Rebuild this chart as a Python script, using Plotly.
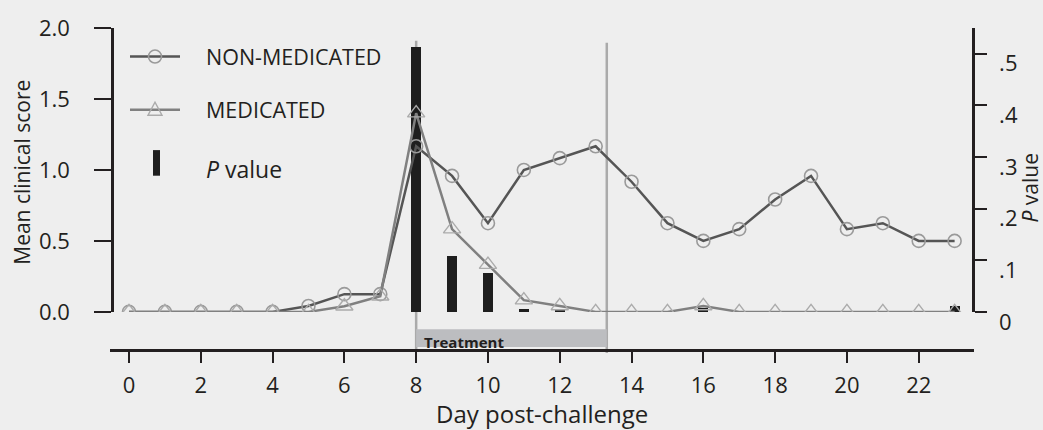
import plotly.graph_objects as go

# ---------------- data ----------------
days = list(range(0, 24))
non_medicated = [0, 0, 0, 0, 0, 0.042, 0.125, 0.125, 1.167, 0.958, 0.625, 1.0,
                 1.083, 1.167, 0.917, 0.625, 0.5, 0.583, 0.792, 0.958, 0.583,
                 0.625, 0.5, 0.5]
medicated = [0, 0, 0, 0, 0, 0, 0.04, 0.11, 1.40, 0.583, 0.333, 0.083,
             0.042, 0, 0, 0, 0.042, 0, 0, 0, 0, 0, 0, 0]
p_days = [8, 9, 10, 11, 12, 16, 23]
p_values = [0.512, 0.109, 0.075, 0.006, 0.004, 0.008, 0.012]
x_ticks = list(range(0, 23, 2))
left_ticks = [0, 0.5, 1.0, 1.5, 2.0]
right_ticks = [0, 0.1, 0.2, 0.3, 0.4, 0.5]
right_ticktext = ["0", ".1", ".2", ".3", ".4", ".5"]
treatment_start = 8
treatment_end = 13.31

# ---------------- geometry helpers ----------------
W, H = 1043, 430
L, R, T, B = 110, 974, 23, 350


def px(x):
    return (x - L) / (R - L)


def py(y):
    return (B - y) / (B - T)


BG = "#eeeeee"
INK = "#231f20"
FONT = "Open Sans"
TICK = 22

fig = go.Figure()

# P-value bars on primary (right) axis -> drawn beneath
fig.add_trace(go.Bar(x=p_days, y=p_values, width=0.28, marker_color="#1e1e1e",
                     marker_line_width=0, yaxis="y", xaxis="x", name="P value"))

fig.add_trace(go.Scatter(x=days, y=non_medicated, mode="lines+markers", yaxis="y2",
                         name="NON-MEDICATED",
                         line=dict(color="#555555", width=2.5),
                         marker=dict(symbol="circle-open", size=13,
                                     color="#9a9a9a", line=dict(width=1.6, color="#9a9a9a"))))
fig.add_trace(go.Scatter(x=days, y=medicated, mode="lines+markers", yaxis="y2",
                         name="MEDICATED",
                         line=dict(color="#808080", width=2.5),
                         marker=dict(symbol="triangle-up-open", size=15,
                                     color="#ababab", line=dict(width=1.4, color="#ababab"))))

shapes = []
# vertical treatment boundary lines
shapes.append(dict(type="line", xref="x", yref="paper", x0=treatment_start, x1=treatment_start,
                   y0=py(350), y1=py(36), line=dict(color="#aaaaaa", width=2.5), layer="below"))
shapes.append(dict(type="line", xref="x", yref="paper", x0=treatment_end, x1=treatment_end,
                   y0=py(353), y1=py(38), line=dict(color="#aaaaaa", width=2.5), layer="below"))
# treatment bar
shapes.append(dict(type="rect", xref="x", yref="paper", x0=treatment_start, x1=treatment_end,
                   y0=py(347), y1=py(329), fillcolor="#bcbdc0", line=dict(width=0), layer="below"))

# custom legend
shapes.append(dict(type="line", xref="paper", yref="paper", x0=px(130), x1=px(180),
                   y0=py(52), y1=py(52), line=dict(color="#555555", width=2.5)))
shapes.append(dict(type="circle", xref="paper", yref="paper", xsizemode="pixel", ysizemode="pixel",
                   xanchor=px(155), yanchor=py(52), x0=-6.5, x1=6.5, y0=-6.5, y1=6.5,
                   line=dict(color="#9a9a9a", width=1.6)))
shapes.append(dict(type="line", xref="paper", yref="paper", x0=px(130), x1=px(180),
                   y0=py(106), y1=py(106), line=dict(color="#808080", width=2.5)))
shapes.append(dict(type="path", xref="paper", yref="paper", xsizemode="pixel", ysizemode="pixel",
                   xanchor=px(155), yanchor=py(106),
                   path="M -7 -5.5 L 7 -5.5 L 0 7.5 Z",
                   line=dict(color="#ababab", width=1.4)))
shapes.append(dict(type="rect", xref="paper", yref="paper", x0=px(153), x1=px(160),
                   y0=py(173), y1=py(147), fillcolor="#1e1e1e", line=dict(width=0)))

annotations = [
    dict(text="NON-MEDICATED", xref="paper", yref="paper", x=px(204), y=py(52),
         xanchor="left", yanchor="middle", showarrow=False, font=dict(size=21.5, color=INK)),
    dict(text="MEDICATED", xref="paper", yref="paper", x=px(204), y=py(106),
         xanchor="left", yanchor="middle", showarrow=False, font=dict(size=21.5, color=INK)),
    dict(text="<i>P</i> value", xref="paper", yref="paper", x=px(204), y=py(166),
         xanchor="left", yanchor="middle", showarrow=False, font=dict(size=23, color=INK)),
    dict(text="<b>Treatment</b>", xref="x", yref="paper", x=treatment_start + 0.15, y=py(342),
         xanchor="left", yanchor="middle", showarrow=False, font=dict(size=15, color=INK)),
    dict(text="Mean clinical score", xref="paper", yref="paper", x=px(22), y=py(170),
         xanchor="center", yanchor="middle", textangle=-90, showarrow=False,
         font=dict(size=21, color=INK)),
    dict(text="Day post-challenge", xref="paper", yref="paper", x=px(542), y=py(414),
         xanchor="center", yanchor="middle", showarrow=False, font=dict(size=24, color=INK)),
    dict(text="<i>P</i> value", xref="paper", yref="paper", x=px(1030), y=py(186),
         xanchor="center", yanchor="middle", textangle=-90, showarrow=False,
         font=dict(size=21, color=INK)),
]

dom0 = py(311.3)

fig.update_layout(
    width=W, height=H,
    margin=dict(l=L, r=W - R, t=T, b=H - B, pad=0),
    paper_bgcolor=BG, plot_bgcolor=BG,
    showlegend=False,
    font=dict(family=FONT, size=TICK, color=INK),
    bargap=0,
    xaxis=dict(range=[-0.529, 23.54], tickvals=x_ticks, ticks="outside", ticklen=11,
               tickwidth=1.5, tickcolor=INK, showline=True, linewidth=2.5, linecolor=INK,
               showgrid=False, zeroline=False, anchor="free", position=0,
               tickfont=dict(size=TICK, color=INK), ticklabelstandoff=4),
    yaxis=dict(domain=[dom0, 1], range=[0, 0.5495], side="right", anchor="free",
               position=0.9988, tickvals=right_ticks, ticktext=right_ticktext,
               ticks="outside", ticklen=12, tickwidth=1.5, tickcolor=INK,
               showline=True, linewidth=2.5, linecolor=INK, showgrid=False,
               zeroline=False, tickfont=dict(size=TICK, color=INK),
               ticklabelshift=10, ticklabelstandoff=8),
    yaxis2=dict(overlaying="y", side="left", anchor="free", position=0.0023,
                range=[0, 2.0], tickvals=left_ticks, tickformat=".1f",
                ticks="outside", ticklen=17, tickwidth=1.5, tickcolor=INK,
                showline=True, linewidth=2.5, linecolor=INK, showgrid=False,
                zeroline=False, tickfont=dict(size=TICK, color=INK), ticklabelstandoff=20),
    shapes=shapes,
    annotations=annotations,
)

fig.write_html("out.html", post_script="document.body.style.margin='0';",
               config={"displayModeBar": False})
